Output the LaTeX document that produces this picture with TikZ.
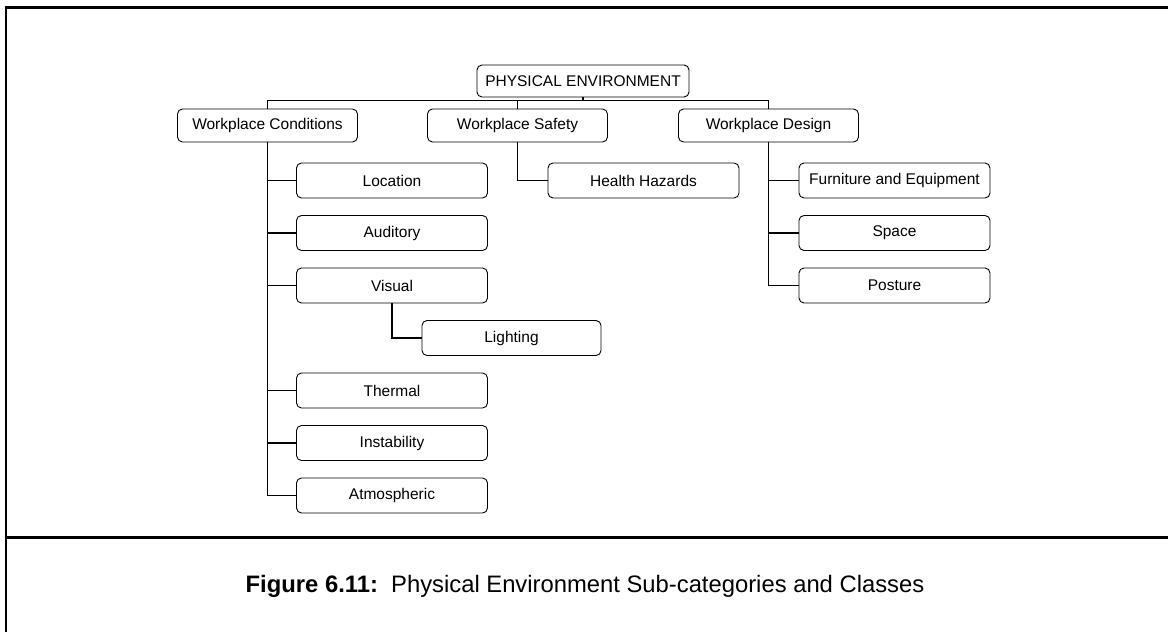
\documentclass[tikz,border=0pt]{standalone}
\usepackage{fontspec}
\setmainfont{Liberation Sans}
\usetikzlibrary{positioning}

\begin{document}
\begin{tikzpicture}[x=1pt,y=-1pt,node distance=52.5pt]
        \useasboundingbox (0,0) rectangle (1168,632);
        \tikzstyle{every node} = [font=\fontsize{15.5}{18}\selectfont,inner sep=0pt]
        \tikzstyle{box} = [draw,rounded corners=5pt,line width=0.9pt,minimum width=191pt,minimum height=35pt]
        \tikzstyle{head} = [box,minimum width=180pt,minimum height=33pt]
        \tikzstyle{link} = [line width=1.2pt]
        % frame
        \coordinate (tl) at (6,7.5);
        \coordinate (tr) at (1168,7.5);
        \coordinate (bl) at (6,632);
        \coordinate (sl) at (6,537.5);
        \coordinate (sr) at (1168,537.5);
        \draw[line width=2.4pt] (tr) -- (tl) -- (bl);
        \draw[line width=2.4pt] (sl) -- (sr);
        % tree
        \node[box,minimum width=212pt,minimum height=32pt] (root) at (583,81) {PHYSICAL ENVIRONMENT};
        \node[head] (cond) at (267.5,125.5) {Workplace Conditions};
        \node[head] (safe) at (517.5,125.5) {Workplace Safety};
        \node[head] (design) at (768.5,125.5) {Workplace Design};
        \node[box] (loc) at (392,180.5) {Location};
        \node[box,below of=loc] (aud) {Auditory};
        \node[box,below of=aud] (vis) {Visual};
        \node[box,minimum width=179pt] (light) at (511.5,338) {Lighting};
        \node[box] (therm) at (392,390.5) {Thermal};
        \node[box,below of=therm] (inst) {Instability};
        \node[box,below of=inst] (atmo) {Atmospheric};
        \node[box] (hazard) at (643.5,180.5) {Health Hazards};
        \node[box] (furn) at (894.5,180.5) {Furniture and Equipment};
        \node[box,below of=furn] (space) {Space};
        \node[box,below of=space] (post) {Posture};
        \coordinate (bus) at (583,100.5);
        \draw[link] (root) -- (bus);
        \draw[link] (cond.north) |- (bus) -| (design.north);
        \draw[link] (safe.north) -- (safe.north |- bus);
        \draw[link] (cond.south) |- (atmo.west);
        \foreach \n in {loc,aud,vis,therm,inst}
          \draw[link] (cond.south |- \n.west) -- (\n.west);
        \draw[link] (vis.south) |- (light.west);
        \draw[link] (safe.south) |- (hazard.west);
        \draw[link] (design.south) |- (post.west);
        \foreach \n in {furn,space}
          \draw[link] (design.south |- \n.west) -- (\n.west);
        % caption
        \node[anchor=base,font=\fontsize{23.8}{28}\selectfont] (caption) at (585,592)
          {\textbf{Figure 6.11:}\ \ Physical Environment Sub-categories and Classes};
\end{tikzpicture}
\end{document}
